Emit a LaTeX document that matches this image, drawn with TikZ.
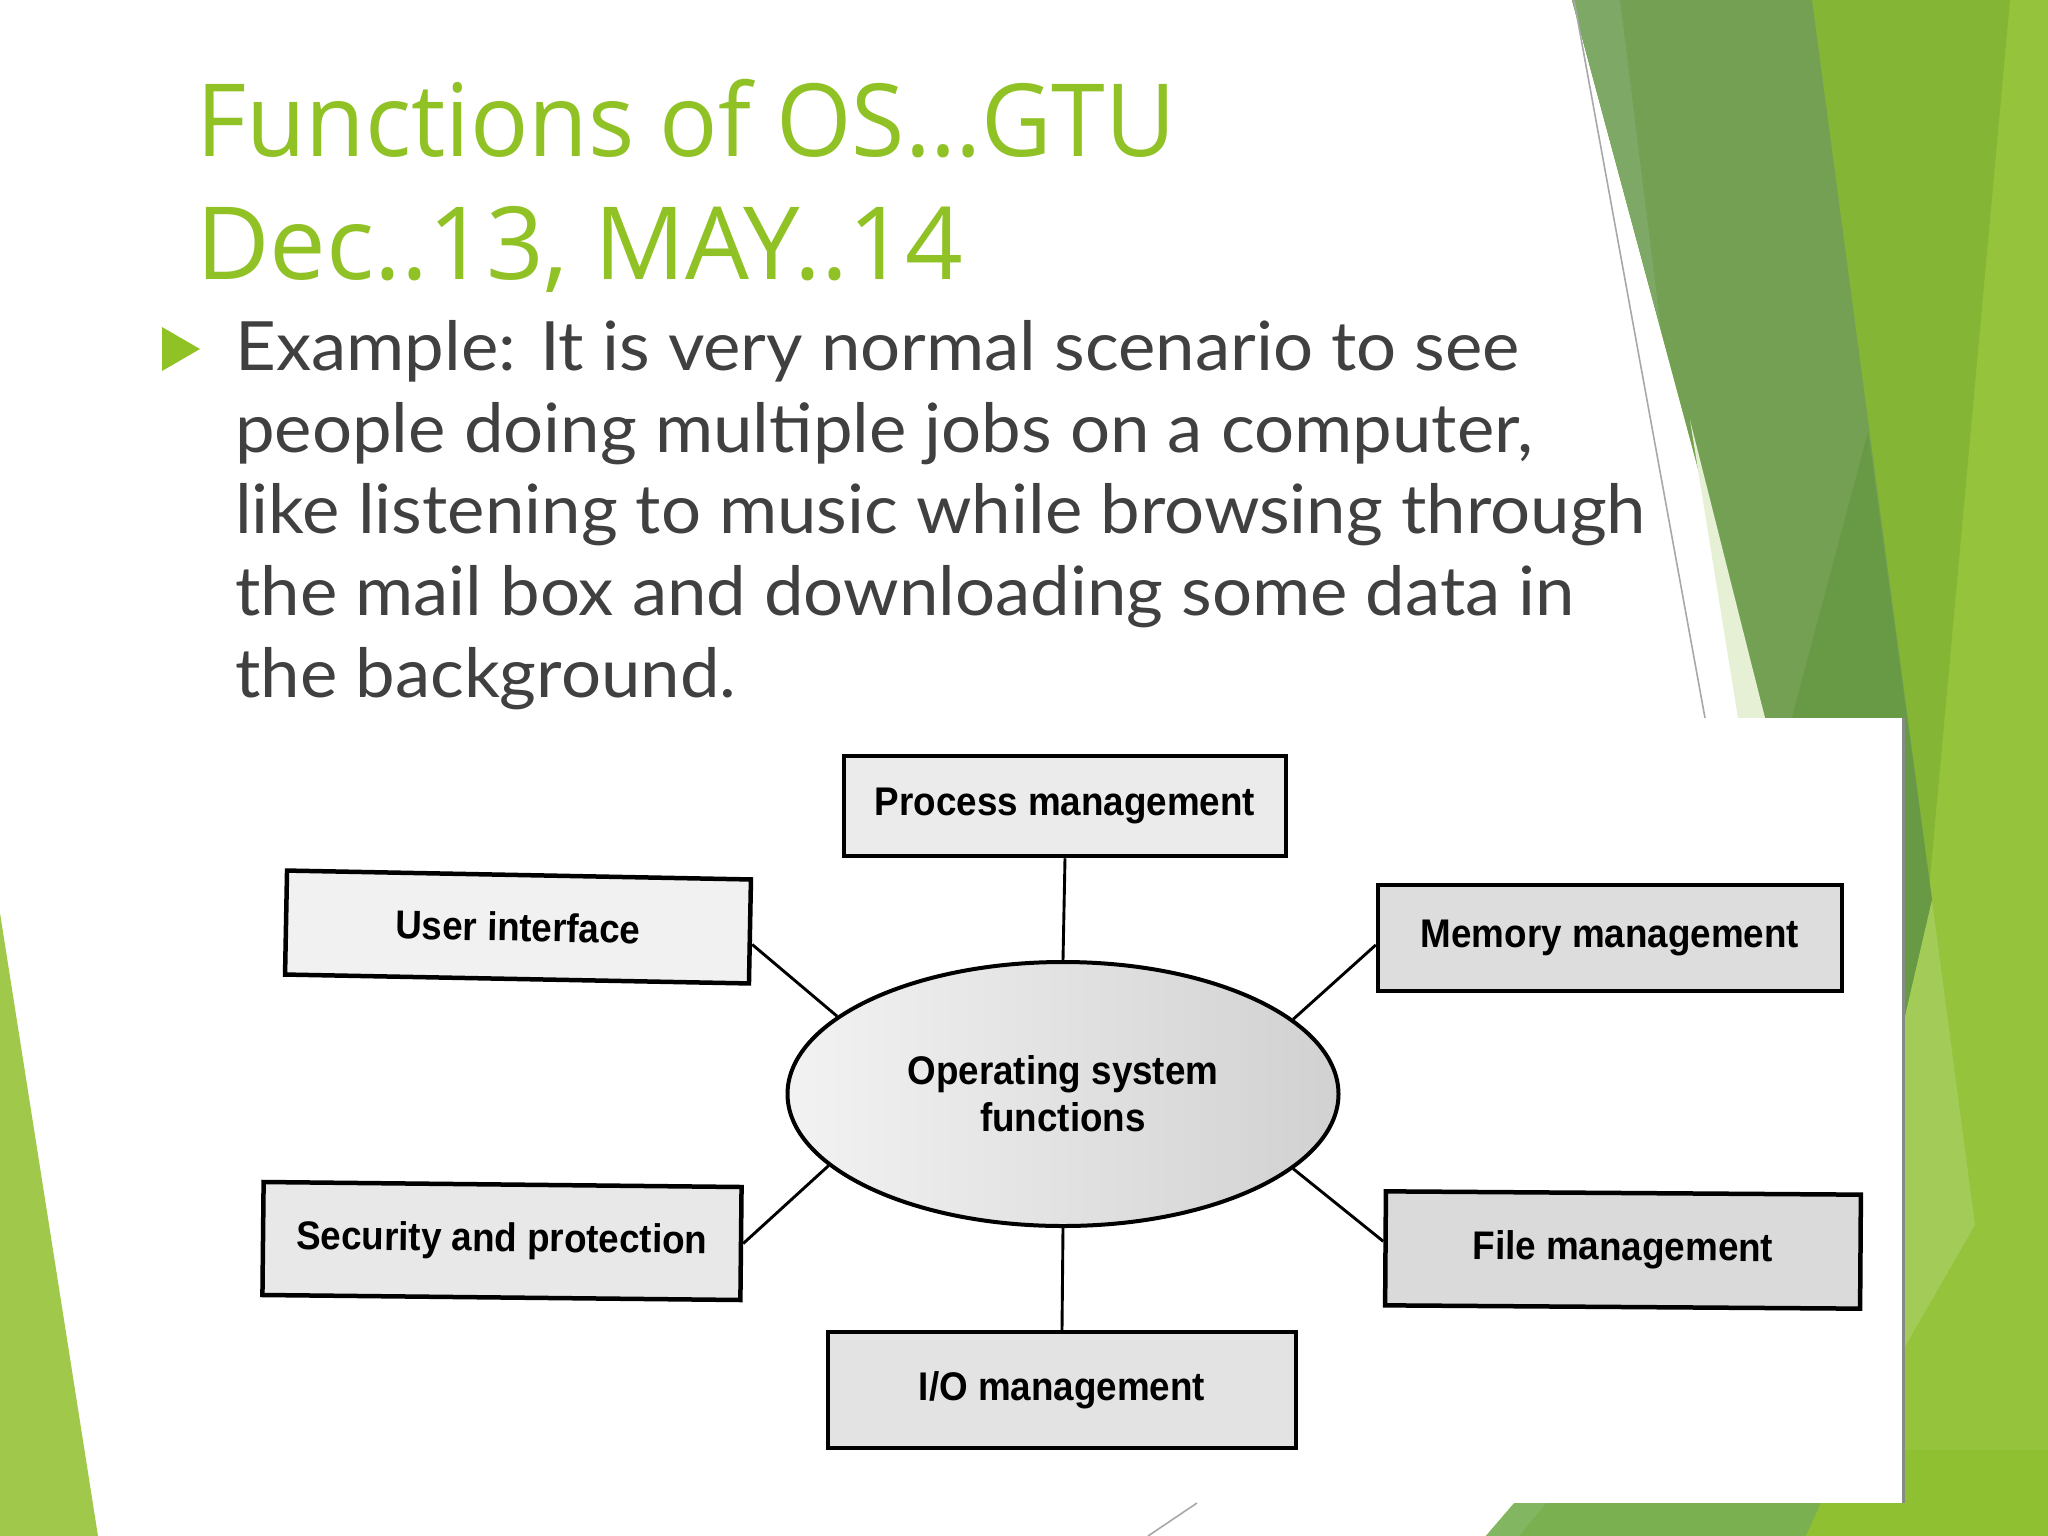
\documentclass[tikz,border=0pt]{standalone}
\usepackage{fontspec}
\setmainfont{Lato}
\newfontfamily\bodyfont[FakeStretch=1.04]{Lato}
\newfontfamily\titlefont[FakeStretch=0.96]{Open Sans}
\newfontfamily\titlefontb[FakeStretch=1.0]{Open Sans}
\newfontfamily\diafont[FakeStretch=0.92]{Liberation Sans}
\usetikzlibrary{shapes.geometric}
\definecolor{facetgreen}{HTML}{90C226}
\definecolor{bodygray}{HTML}{404040}
\definecolor{olive}{HTML}{74A054}
\definecolor{olivelight}{HTML}{7DA866}
\definecolor{olivedark}{HTML}{689A45}
\definecolor{brightg}{HTML}{85B534}
\definecolor{lightg}{HTML}{95C33B}
\definecolor{paleg}{HTML}{E5F0D4}
\definecolor{facetg}{HTML}{A3CB57}
\definecolor{bottommed}{HTML}{7AB04F}
\definecolor{bottomlight}{HTML}{82B661}
\definecolor{bottombright}{HTML}{8EC031}
\definecolor{leftg}{HTML}{A0C84B}
\definecolor{thinline}{HTML}{A8A8A8}
\definecolor{shadowgray}{HTML}{858C85}
\begin{document}
\begin{tikzpicture}[x=1pt,y=-1pt,
  funcbox/.style={rectangle, draw=black, line width=4.5pt, inner sep=0pt, align=center, text=black,
    font=\diafont\bfseries\fontsize{40}{47}\selectfont},
  link/.style={line width=2.9pt, draw=black},
  bodyline/.style={anchor=base west, inner sep=0pt, text=bodygray, font=\bodyfont\fontsize{68}{80}\selectfont},
  titleline/.style={anchor=base west, inner sep=0pt, text=facetgreen, font=\fontsize{101}{120}\selectfont}]
\useasboundingbox (0,0) rectangle (2048,1536);
\fill[white] (0,0) rectangle (2048,1536);

% background facets on the right
\fill[lightg] (1572,0) -- (2048,0) -- (2048,1536) -- (1486,1536) -- (1560,1450) -- (1765,718) -- cycle;
\fill[brightg] (1812,0) -- (2010,0) -- (1928,900) -- cycle;
\fill[olive] (1572,0) -- (1812,0) -- (1932,900) -- (1903,1025) -- (1765,718) -- cycle;
\fill[olivelight] (1572,0) -- (1620,0) -- (1661,330) -- cycle;
\fill[olivedark] (1868,432) -- (1932,900) -- (1903,1025) -- (1770,800) -- cycle;
\fill[paleg] (1690,420) -- (1765,718) -- (1738,718) -- cycle;
\fill[facetg] (1932,900) -- (1975,1225) -- (1903,1350) -- (1903,1025) -- cycle;
\fill[bottommed] (1486,1536) -- (1560,1450) -- (1845,1450) -- (1806,1536) -- cycle;
\fill[bottomlight] (1486,1536) -- (1560,1450) -- (1590,1450) -- (1519,1536) -- cycle;
\fill[bottombright] (1806,1536) -- (1845,1450) -- (2048,1450) -- (2048,1536) -- cycle;
\draw[thinline, line width=1.6pt] (1574,0) -- (1705,718);
% left facet
\fill[leftg] (0,913) -- (98,1536) -- (0,1536) -- cycle;

% picture area
\fill[white] (190,718) rectangle (1902,1503);
\draw[shadowgray, line width=3pt] (1903,718) -- (1903,1503);
\draw[thinline, line width=1.6pt] (1197,1503) -- (1148,1536);

% title
\node[titleline] (t1) at (196,157) {\titlefont Functions of OS…GTU};
\node[titleline] (t2) at (196,279) {\titlefontb Dec..13, MAY..14};

% bullet and body
\fill[facetgreen] (162,327) -- (200,349) -- (162,371) -- cycle;
\node[bodyline] (b1) at (235,370) {Example: It is very normal scenario to see};
\node[bodyline] (b2) at (235,452) {people doing multiple jobs on a computer,};
\node[bodyline] (b3) at (235,533) {like listening to music while browsing through};
\node[bodyline] (b4) at (235,615) {the mail box and downloading some data in};
\node[bodyline] (b5) at (235,697) {the background.};

% diagram
\node[ellipse, draw=black, line width=4pt, minimum width=551pt, minimum height=264pt,
      left color=gray!10, right color=gray!36, align=center, text=black,
      font=\diafont\bfseries\fontsize{40}{47}\selectfont] (os) at (1063,1094) {Operating system\\functions};
\node[funcbox, fill=gray!16, minimum width=442pt, minimum height=100pt] (pm) at (1065,806) {Process management};
\node[funcbox, fill=gray!11, minimum width=464pt, minimum height=104pt, rotate=-1.1] (ui) at (518,927) {User interface};
\node[funcbox, fill=gray!27, minimum width=464pt, minimum height=106pt] (mm) at (1610,938) {Memory management};
\node[funcbox, fill=gray!18, minimum width=478pt, minimum height=113pt, rotate=-0.6] (sp) at (502,1241) {Security and protection};
\node[funcbox, fill=gray!29, minimum width=475pt, minimum height=114pt, rotate=-0.4] (fm) at (1623,1250) {File management};
\node[funcbox, fill=gray!22, minimum width=468pt, minimum height=116pt] (io) at (1062,1390) {I/O management};

\draw[link] (pm.south) -- (os.north);
\draw[link] (os.south) -- (io.north);
\draw[link] ([yshift=-13pt]ui.east) -- (os.161);
\draw[link] ([yshift=-7pt]mm.west) -- (os.18);
\draw[link] (sp.east) -- (os.197);
\draw[link] ([yshift=7pt]fm.west) -- (os.342);
\end{tikzpicture}
\end{document}
